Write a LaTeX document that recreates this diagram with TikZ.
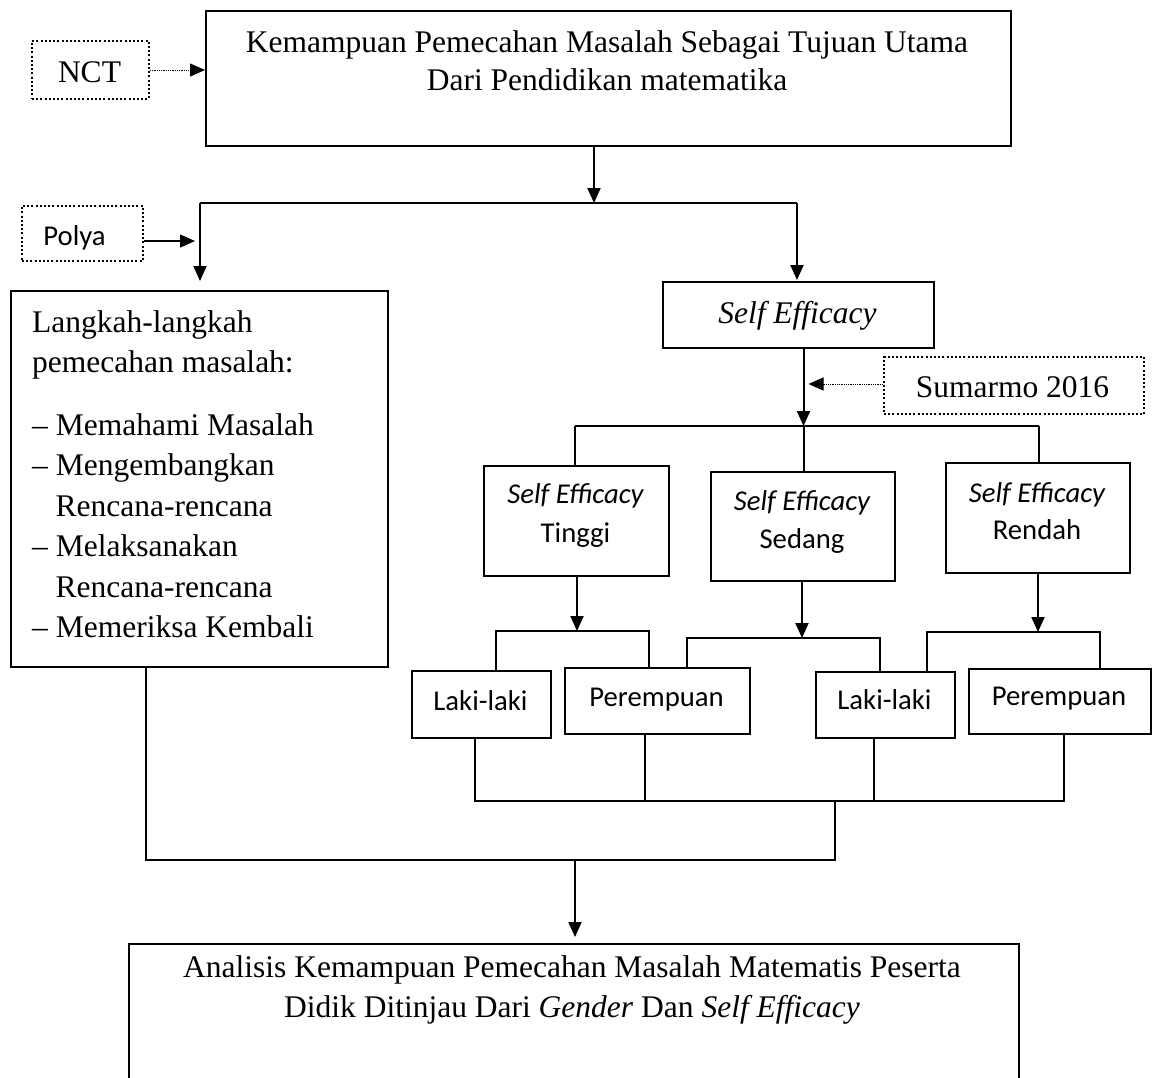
\documentclass[tikz,border=0pt]{standalone}
\usepackage{fontspec}
\setmainfont{Liberation Serif}
\newfontfamily\calib{Carlito}
\usetikzlibrary{arrows.meta}
\begin{document}
\begin{tikzpicture}[x=1pt,y=-1pt,
  box/.style={draw, line width=2pt, inner sep=0pt, anchor=north west},
  dbox/.style={draw, line width=2pt, dash pattern=on 2pt off 2.2pt, inner sep=0pt, anchor=north west},
  tnr/.style={font=\fontsize{31.5}{38}\selectfont, inner sep=0pt, anchor=base},
  tnrl/.style={font=\fontsize{31.5}{38}\selectfont, inner sep=0pt, anchor=base west},
  cal/.style={font=\calib\fontsize{28.7}{34}\selectfont, inner sep=0pt, anchor=base},
  conn/.style={line width=2pt},
  thinconn/.style={line width=1.6pt},
  arr/.style={line width=2pt, -{Triangle[length=15pt,width=13pt]}},
  thinarr/.style={line width=1.3pt, -{Triangle[length=15pt,width=13pt]}},
  darr/.style={line width=1pt, dash pattern=on 1pt off 0.8pt, -{Triangle[length=15pt,width=13pt]}}
]
\useasboundingbox (0,0) rectangle (1152,1077);

% ---- boxes ----
\node[box, minimum width=805pt, minimum height=135pt] (top) at (205,10) {};
\node[dbox, minimum width=117pt, minimum height=58pt] (nct) at (31,40) {};
\node[dbox, minimum width=121pt, minimum height=55pt] (polya) at (21,205) {};
\node[box, minimum width=377pt, minimum height=376pt] (lang) at (10,290) {};
\node[box, minimum width=271pt, minimum height=66pt] (se) at (662,281) {};
\node[dbox, minimum width=260pt, minimum height=57pt] (sum) at (883,356) {};
\node[box, minimum width=185pt, minimum height=110pt] (tinggi) at (483,465) {};
\node[box, minimum width=184pt, minimum height=109pt] (sedang) at (710,471) {};
\node[box, minimum width=184pt, minimum height=110pt] (rendah) at (945,462) {};
\node[box, minimum width=139pt, minimum height=67pt] (laki1) at (411,670) {};
\node[box, minimum width=185pt, minimum height=66pt] (per1) at (564,667) {};
\node[box, minimum width=139pt, minimum height=66pt] (laki2) at (815,671) {};
\node[box, minimum width=182pt, minimum height=65pt] (per2) at (968,668) {};
\node[box, minimum width=890pt, minimum height=170pt] (bot) at (128,943) {};

% ---- texts ----
\node[tnr] (ttop1) at (607,52) {Kemampuan Pemecahan Masalah Sebagai Tujuan Utama};
\node[tnr] (ttop2) at (607,90) {Dari Pendidikan matematika};
\node[tnr] (tnct) at (89.5,82) {NCT};
\node[cal] (tpolya) at (74.5,245) {Polya};
\node[tnrl] (tl1) at (32,332) {Langkah-langkah};
\node[tnrl] (tl2) at (32,372.5) {pemecahan masalah:};
\node[tnrl] (tl3) at (32,435) {\llap{}– Memahami Masalah};
\node[tnrl] (tl4) at (32,475.5) {– Mengembangkan};
\node[tnrl] (tl5) at (55.5,516) {Rencana-rencana};
\node[tnrl] (tl6) at (32,556.5) {– Melaksanakan};
\node[tnrl] (tl7) at (55.5,597) {Rencana-rencana};
\node[tnrl] (tl8) at (32,637.5) {– Memeriksa Kembali};
\node[tnr] (tse) at (797.5,323) {\itshape Self Efficacy};
\node[tnr] (tsum) at (1012.5,397) {Sumarmo 2016};
\node[cal] (tti1) at (575.5,503) {\itshape Self Efficacy};
\node[cal] (tti2) at (575.5,542) {Tinggi};
\node[cal] (tsd1) at (802,510) {\itshape Self Efficacy};
\node[cal] (tsd2) at (802,548) {Sedang};
\node[cal] (trd1) at (1037,502) {\itshape Self Efficacy};
\node[cal] (trd2) at (1037,539) {Rendah};
\node[cal] (tlk1) at (480.5,710) {Laki-laki};
\node[cal] (tpr1) at (656.5,706) {Perempuan};
\node[cal] (tlk2) at (884.5,709) {Laki-laki};
\node[cal] (tpr2) at (1059,705) {Perempuan};
\node[tnr] (tbot1) at (572,977) {Analisis Kemampuan Pemecahan Masalah Matematis Peserta};
\node[tnr] (tbot2) at (572,1017) {Didik Ditinjau Dari \textit{Gender} Dan \textit{Self Efficacy}};

% ---- junction coordinates ----
\coordinate (jA) at (594,203);
\coordinate (jL) at (200,203);
\coordinate (jR) at (797,203);
\coordinate (sA) at (803.5,426);
\coordinate (sL) at (575,426);
\coordinate (sR) at (1039,426);
\coordinate (g1) at (577,631);
\coordinate (g1L) at (496,631);
\coordinate (g1R) at (649,631);
\coordinate (g2) at (802,638);
\coordinate (g2L) at (687,638);
\coordinate (g2R) at (880,638);
\coordinate (g3) at (1038,632);
\coordinate (g3L) at (927,632);
\coordinate (g3R) at (1100,632);
\coordinate (b1) at (475,801);
\coordinate (b2) at (645,801);
\coordinate (b3) at (874,801);
\coordinate (b4) at (1064,801);
\coordinate (bM) at (835,801);
\coordinate (cM) at (835,860);
\coordinate (cL) at (146,860);
\coordinate (cA) at (575,860);

% ---- connectors ----
\draw[darr] (nct.east) -- (nct.east -| top.west);
\draw[arr] (jA |- top.south) -- (jA);
\draw[conn] (jL) -- (jR);
\draw[arr, shorten >=9pt] (jL) -- (jL |- lang.north);
\draw[arr, shorten >=1pt] (jR) -- (jR |- se.north);
\draw[thinarr, shorten >=5pt] ([yshift=-7.5pt]polya.east) -- ([yshift=-7.5pt]polya.east -| jL);

\draw[arr] (sA |- se.south) -- (sA);
\draw[darr, shorten >=5pt] ([yshift=1.5pt]sum.west) -- ([yshift=1.5pt]sum.west -| sA);
\draw[conn] (sL) -- (sR);
\draw[conn] (sL) -- (sL |- tinggi.north);
\draw[conn] (sA) -- (sA |- sedang.north);
\draw[conn] (sR) -- (sR |- rendah.north);

\draw[arr] (g1 |- tinggi.south) -- (g1);
\draw[conn] (g1L |- laki1.north) -- (g1L) -- (g1R) -- (g1R |- per1.north);
\draw[arr] (g2 |- sedang.south) -- (g2);
\draw[conn] (g2L |- per1.north) -- (g2L) -- (g2R) -- (g2R |- laki2.north);
\draw[arr] (g3 |- rendah.south) -- (g3);
\draw[conn] (g3L |- laki2.north) -- (g3L) -- (g3R) -- (g3R |- per2.north);

\draw[thinconn] (b1 |- laki1.south) -- (b1) -- (b4) -- (b4 |- per2.south);
\draw[thinconn] (b2 |- per1.south) -- (b2);
\draw[thinconn] (b3 |- laki2.south) -- (b3);
\draw[conn] (bM) -- (cM) -- (cL) -- (cL |- lang.south);
\draw[arr, shorten >=6pt] (cA) -- (cA |- bot.north);
\end{tikzpicture}
\end{document}
